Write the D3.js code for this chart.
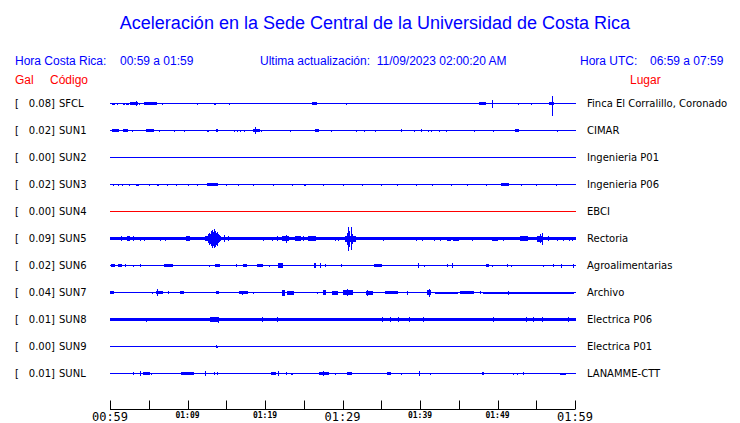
<!DOCTYPE html>
<html><head><meta charset="utf-8">
<script src="https://cdn.jsdelivr.net/npm/d3@7"></script>
<style>body{margin:0;background:#fff}svg{display:block}</style>
</head><body><svg id="c" width="740" height="423"></svg>
<script>
// ---------- DATA ----------
const codes = ["SFCL","SUN1","SUN2","SUN3","SUN4","SUN5","SUN6","SUN7","SUN8","SUN9","SUNL"];
const peakGal = [0.08,0.02,0.00,0.02,0.00,0.09,0.02,0.04,0.01,0.00,0.01];
const places = ["Finca El Corralillo, Coronado","CIMAR","Ingenieria P01","Ingenieria P06","EBCI","Rectoria","Agroalimentarias","Archivo","Electrica P06","Electrica P01","LANAMME-CTT"];
const online = [true,true,true,true,false,true,true,true,true,true,true];
// background noise half-amplitude (relative units)
const noise = [0.5,0.5,0.5,0.5,0.5,1.6,0.6,0.7,1.8,0.5,0.5];
const tickMinutes = [0,5,10,15,20,25,30,35,40,45,50,55,60];
const tickLabels = {0:"00:59",10:"01:09",20:"01:19",30:"01:29",40:"01:39",50:"01:49",60:"01:59"};
// bursts: [startMin, endMin, ampUp, ampDown(optional)]
const evSFCL = [[0.26,0.52,1],[0.9,0.9,1],[1.7,1.8,1],[2.1,2.3,1],[2.6,3.5,1.5],[3.35,3.35,2.5],[3.7,3.7,1],[4.4,4.6,1.5],[4.8,5.9,1.5],[6.7,6.7,1],[11.2,11.2,1],[13.4,13.5,1],[14.5,14.5,0.7],[15.4,15.4,1],[18.1,18.1,0.7],[26.1,26.6,1.5],[27.0,27.0,0.7],[28.9,28.9,0.7],[29.4,29.4,0.7],[30.5,30.5,1],[31.1,31.1,0.5],[34.8,34.8,0.7],[39.9,39.9,0.5],[47.6,48.4,1.5],[49.3,49.3,4],[52.6,52.6,1],[54.3,54.3,1],[56.6,57.2,1.5],[57.0,57.0,7.5,12.5],[58.6,58.6,0.7]];
const evSUN1 = [[0.26,1.0,1.5],[1.7,2.2,1.5],[2.8,2.8,1],[4.6,5.5,1.5],[6.3,6.3,1],[8.3,8.3,1],[9.5,9.5,1],[12.5,12.6,1],[13.7,13.8,1.5],[16.0,16.0,1],[16.4,16.4,1],[16.8,16.8,1],[17.3,17.3,1],[18.5,19.2,1.5],[18.7,18.7,3.5],[19.5,19.5,1],[23.2,23.2,1],[26.5,26.8,1.5],[28.5,28.5,1],[31.7,31.7,1],[32.8,32.8,1],[34.2,34.2,1],[35.9,35.9,0.5],[36.8,36.8,0.5],[37.5,37.5,1.5],[39.2,39.2,1],[40.1,40.1,1.5],[41.0,41.0,1],[41.4,41.4,1],[42.5,42.5,1],[43.4,43.4,1],[45.7,45.7,0.5],[47.0,47.0,1],[49.4,49.4,1],[52.3,52.6,1.5],[57.7,57.7,1]];
const evSUN2 = [];
const evSUN3 = [[0.4,0.4,1],[1.0,1.0,1],[1.6,1.6,1],[2.5,2.5,1],[3.4,3.6,1],[5.0,5.0,1],[6.0,6.2,1],[7.4,7.4,1],[8.5,8.5,1],[10.0,10.0,1],[11.2,11.2,1],[12.5,13.8,1.5],[15.0,15.0,1],[16.5,16.5,1],[18.5,18.5,1],[21.0,21.0,1],[23.5,23.5,1],[25.0,25.2,1],[27.5,27.5,1],[30.0,30.0,1],[32.5,32.5,1],[35.0,35.0,1],[37.0,37.0,1],[39.5,39.5,1],[41.5,41.5,1],[44.0,44.0,1],[46.0,46.0,1],[48.5,48.5,1],[50.5,51.3,1.5],[53.0,53.0,1],[55.0,55.0,1],[57.5,57.5,1]];
const evSUN4 = [];
const evSUN5 = [[1.4,1.4,2.5],[2.2,2.5,2.5],[3.0,3.0,2.5],[3.9,3.9,2],[4.4,4.4,2],[6.5,6.5,2],[7.1,7.1,2],[9.8,10.2,2.5],
  [12.3,14.2,2.5],[12.6,12.7,4.5],[12.8,12.8,6],[12.9,12.9,5],[13.0,13.0,7.5],[13.1,13.1,6],[13.2,13.2,9],[13.3,13.3,7],[13.45,13.45,9.5],[13.6,13.6,8],[13.7,13.7,6],[13.8,13.8,7],[13.95,13.95,4.5],[14.1,14.1,3.5],
  [14.7,14.7,3.5],[15.2,15.2,2.5],[19.7,19.7,2],[20.9,20.9,2],[21.5,21.5,2.5],[22.2,23.0,2.5],[22.7,22.7,4],[23.9,24.5,2.5],[24.9,24.9,2.5],[25.5,26.5,2.2],[29.0,29.0,2],[29.4,29.4,2],
  [30.3,31.6,3],[30.6,30.6,6],[30.75,30.75,12],[30.9,30.9,8],[31.05,31.05,11.5],[31.2,31.2,5],
  [34.5,34.5,1.5],[35.2,35.2,2],[37.2,37.2,1.5],[38.3,38.3,1.5],[39.5,39.5,2],[40.3,40.3,2],[41.8,41.8,2],[42.6,42.6,2],[43.5,43.9,2],[44.3,44.9,2],[46.2,46.2,1.5],[46.7,46.7,2],[47.6,47.6,1.5],[49.3,49.9,2],[50.7,50.7,2],[51.4,51.4,1.5],[52.9,53.8,2.2],
  [55.1,55.8,3],[55.5,55.5,4.5],[55.7,55.7,6],[56.5,56.5,2.5],[57.7,57.7,2],[58.5,58.5,2],[59.2,59.2,2],[59.6,59.6,2]];
const evSUN6 = [[0.1,0.5,1.5],[1.0,1.4,1.5],[1.9,1.9,1.5],[3.0,3.0,1],[3.9,3.9,1.5],[7.0,8.0,1.5],[12.8,12.8,1],[13.5,14.1,1.5],[16.3,16.3,1.5],[17.2,17.5,1.5],[19.0,19.6,1.5],[20.5,20.5,1],[21.7,22.2,2.5],[24.1,24.1,0.7],[26.3,26.5,2.5],[27.1,27.1,2.5],[27.7,27.7,1.5],[29.8,29.8,1.5],[34.1,35.0,1.5],[39.7,39.7,2.5],[40.5,40.5,1],[42.3,42.3,0.7],[43.5,43.5,1.5],[44.1,44.1,2.5],[46.5,46.5,0.7],[48.5,48.8,1.5],[49.3,49.3,1],[51.2,51.2,1.5],[51.7,51.7,1],[55.1,55.1,0.7],[55.9,55.9,1],[57.2,57.2,1.5],[58.2,58.2,2],[59.7,59.7,2]];
const evSUN7 = [[0,0.4,1.5],[4.1,4.1,0.7],[4.8,4.8,0.7],[5.4,5.4,1],[5.9,6.7,1.5],[6.1,6.1,3.5],[7.5,7.5,1.5],[9.0,9.4,1.5],[12.9,12.9,0.7],[13.7,13.9,1.5],[16.4,16.4,0.7],[16.6,17.7,1.5],[17.0,17.0,2],[18.5,18.5,1],[19.0,19.0,0.7],[22.2,22.5,3],[22.8,23.6,2],[24.3,24.3,0.7],[25.0,25.0,0.7],[25.7,25.7,0.7],[26.7,26.7,1],[27.5,27.7,2.5],[28.6,29.3,2],[30.1,31.2,2.2],[30.6,30.6,3.5],[33.0,33.8,2],[33.2,33.2,3],[34.8,34.8,0.7],[35.5,37.0,1.2],[38.3,38.3,2],[39.6,39.6,0.7],[40.0,40.0,0.7],[40.9,41.3,2.5],[41.2,41.2,4],[41.9,44.8,1],[45.2,46.8,1.2],[47.7,47.7,1.5],[48.1,59.7,1],[51.4,51.4,2]];
const evSUN8 = [[4.6,4.6,0,2.5],[12.9,13.9,2.5],[13.9,13.9,3],[19.6,19.6,2.5],[21.5,21.5,2.5],[35.1,35.1,2.2],[36.1,36.1,2.2],[37.2,37.2,2.2],[38.6,38.6,2.5],[40.4,40.4,2.2],[49.4,49.4,2.5],[53.7,53.7,2.2],[54.6,54.6,2.2],[55.7,55.7,2.5],[59.1,59.1,2.5]];
const evSUN9 = [[13.7,13.7,1.5],[13.8,13.8,1]];
const evSUNL = [[1.8,1.8,0.7],[3.0,3.0,1.5],[3.9,3.9,2.5],[4.3,5.0,1.5],[5.3,5.3,1],[6.8,6.8,0.7],[7.1,7.1,0.7],[9.2,10.7,1.5],[12.3,12.3,2.5],[13.4,13.4,1.5],[13.8,13.8,1.5],[16.4,16.4,0.5],[20.8,21.3,1.5],[21.7,21.7,2.5],[22.7,22.7,1.5],[23.4,23.5,1],[27.0,28.1,1.5],[27.5,27.5,2.5],[29.0,29.0,1],[30.6,31.1,1.5],[34.5,34.5,0.7],[35.7,36.1,1.5],[37.5,37.5,1],[38.6,38.6,0.7],[39.9,39.9,2.5],[41.3,41.3,1],[48.0,48.1,1.5],[52.0,52.0,1],[52.5,52.5,1],[53.3,53.3,1.5],[58.1,58.7,1]];
const events = [evSFCL,evSUN1,evSUN2,evSUN3,evSUN4,evSUN5,evSUN6,evSUN7,evSUN8,evSUN9,evSUNL];

// ---------- DRAW ----------
const svg = d3.select("#c");
const blue = "#0000ff", red = "#ff0000";
const x = d3.scaleLinear().domain([0,60]).range([110,575]);
const row = d3.scalePoint().domain(codes).range([103.5,373.5]);

svg.append("text").attr("x",375).attr("y",29).attr("text-anchor","middle")
  .attr("font-family","Liberation Sans, Arial, sans-serif").attr("font-size",18).attr("fill",blue)
  .text("Aceleración en la Sede Central de la Universidad de Costa Rica");

const hdr = (tx,ty,t,col,anchor)=>svg.append("text").attr("x",tx).attr("y",ty)
  .attr("font-family","Liberation Sans, Arial, sans-serif").attr("font-size",12)
  .attr("fill",col).attr("text-anchor",anchor||"start").text(t);
hdr(15,65,"Hora Costa Rica:",blue);
hdr(120,65,"00:59 a 01:59",blue);
hdr(260,65,"Ultima actualización:  11/09/2023 02:00:20 AM",blue).attr("xml:space","preserve").style("white-space","pre");
hdr(580,65,"Hora UTC:",blue);
hdr(650,65,"06:59 a 07:59",blue);
hdr(15,84,"Gal",red);
hdr(50,84,"Código",red);
hdr(630,84,"Lugar",red);

const g = svg.append("g").attr("shape-rendering","crispEdges");
codes.forEach((c,i)=>{
  const cy = row(c);
  const col = online[i] ? blue : red;
  const amp = d3.scaleLinear().domain([-1,1]).range([cy+1,cy-1]);
  const ty = cy+3.5;
  svg.append("text").attr("x",15).attr("y",ty).attr("font-family","DejaVu Sans, sans-serif").attr("font-size",10).attr("fill","#000").text("[");
  svg.append("text").attr("x",55).attr("y",ty).attr("text-anchor","end").attr("font-family","DejaVu Sans, sans-serif").attr("font-size",10).attr("fill","#000").text(peakGal[i].toFixed(2)+"]");
  svg.append("text").attr("x",59).attr("y",ty).attr("font-family","DejaVu Sans, sans-serif").attr("font-size",10).attr("fill","#000").text(c);
  svg.append("text").attr("x",587).attr("y",ty).attr("font-family","DejaVu Sans, sans-serif").attr("font-size",10).attr("fill","#000").text(places[i]);
  const n = noise[i];
  g.append("rect").attr("x",x(0)).attr("width",x(60)-x(0)+1)
    .attr("y",Math.round(amp(n))).attr("height",Math.max(1,Math.round(amp(-n))-Math.round(amp(n))))
    .attr("fill",col);
  g.selectAll(null).data(events[i]).enter().append("rect")
    .attr("x",d=>Math.round(x(d[0])))
    .attr("width",d=>Math.max(1,Math.round(x(d[1]))-Math.round(x(d[0]))+1))
    .attr("y",d=>Math.round(amp(d[2])))
    .attr("height",d=>Math.max(1,Math.round(amp(-(d.length>3?d[3]:d[2])))-Math.round(amp(d[2]))))
    .attr("fill",col);
});

// axis
const ay = 409.5;
svg.append("line").attr("x1",x(0)).attr("x2",x(60)).attr("y1",ay).attr("y2",ay).attr("stroke","#000").attr("stroke-width",1).attr("shape-rendering","crispEdges");
svg.selectAll(".tk").data(tickMinutes).enter().append("line")
  .attr("x1",d=>Math.round(x(d))+0.5).attr("x2",d=>Math.round(x(d))+0.5)
  .attr("y1",ay-9).attr("y2",ay).attr("stroke","#000").attr("stroke-width",1);
Object.keys(tickLabels).forEach(k=>{
  const m = +k, big = (m%30===0);
  svg.append("text").attr("x",x(m)).attr("y",big?421:418).attr("text-anchor","middle")
    .attr("font-family","DejaVu Sans Mono, monospace").attr("font-size",big?12:8)
    .attr("font-weight",big?"normal":"bold").attr("fill","#000").text(tickLabels[k]);
});
</script></body></html>
